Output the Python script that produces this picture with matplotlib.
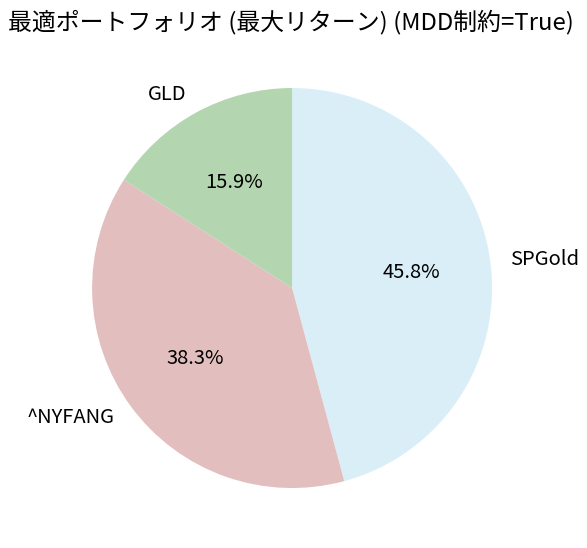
import matplotlib
matplotlib.use("Agg")
import matplotlib.pyplot as plt

plt.rcParams['font.family'] = ['Noto Sans CJK JP', 'DejaVu Sans']

labels = ['SPGold', '^NYFANG', 'GLD']
weights = [45.8, 38.3, 15.9]
colors = ['#daeef7', '#e2bfbe', '#b3d6b0']

fig = plt.figure(figsize=(5.87, 5.48), dpi=100)
# 500x500 px box around the pie centre
ax = fig.add_axes([0.0716, 0.0182, 0.852, 0.9124])
ax.pie(weights, labels=labels, colors=colors, autopct='%1.1f%%',
       startangle=90, counterclock=False,
       textprops={'fontsize': 14.5})
ax.set_aspect('equal')
fig.text(0.495, 0.96, '最適ポートフォリオ (最大リターン) (MDD制約=True)',
         fontsize=17.2, ha='center', va='center')
fig.savefig('out.png', dpi=100)
